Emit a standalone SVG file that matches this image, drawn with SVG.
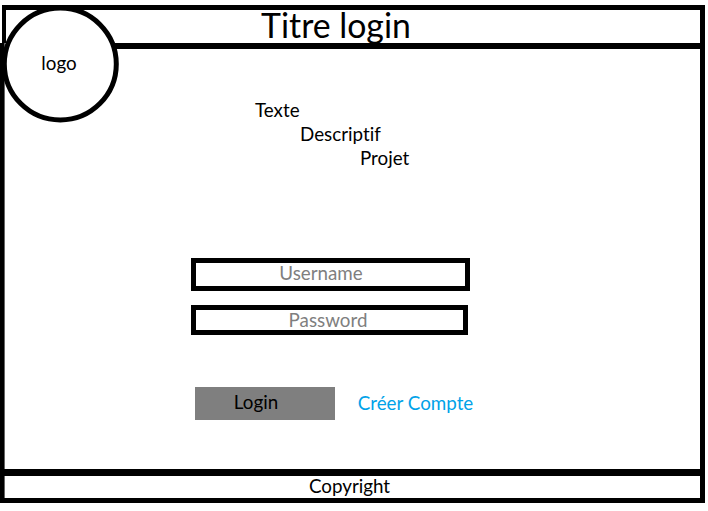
<svg xmlns="http://www.w3.org/2000/svg" width="708" height="511" viewBox="0 0 708 511">
<style>
text{font-family:"Lato","Open Sans",sans-serif;fill:#000;font-variant-ligatures:none}
.b{fill:none;stroke:#000}
.t{font-size:18.8px}
.g{font-size:18.8px;fill:#7f7f7f}
</style>
<rect width="708" height="511" fill="#fff"/>
<g id="frame">
<line class="b" x1="2" y1="7.500" x2="705" y2="7.500" stroke-width="5"/>
<line class="b" x1="702.500" y1="5" x2="702.500" y2="503" stroke-width="5"/>
<line class="b" x1="0" y1="500.500" x2="705" y2="500.500" stroke-width="5"/>
<line class="b" x1="4" y1="5" x2="4" y2="43" stroke-width="4"/>
<line class="b" x1="2.300" y1="43" x2="2.300" y2="503" stroke-width="4.600"/>
<line class="b" x1="115" y1="46" x2="703" y2="46" stroke-width="6"/>
<line class="b" x1="0" y1="472.500" x2="703" y2="472.500" stroke-width="7"/>
</g>
<g id="title"><text x="336" y="37.500" text-anchor="middle" font-size="33.800">Titre login</text></g>
<g id="logo"><circle cx="60.300" cy="64" r="56" fill="#fff" stroke="#000" stroke-width="5"/><text class="t" x="59" y="70" text-anchor="middle">logo</text></g>
<g id="description">
<text class="t" x="255" y="116.500">Texte</text>
<text class="t" x="300" y="140.500">Descriptif</text>
<text class="t" x="360" y="164.500">Projet</text>
</g>
<g id="username"><rect class="b" x="193.500" y="260.500" width="274" height="28" stroke-width="5"/><text class="g" x="321" y="279.500" text-anchor="middle">Username</text></g>
<g id="password"><rect class="b" x="193.500" y="307.500" width="272" height="25" stroke-width="5"/><text class="g" x="328" y="326.500" text-anchor="middle">Password</text></g>
<g id="login"><rect x="195" y="387" width="140" height="33" fill="#7f7f7f"/><text class="t" x="256" y="408.500" text-anchor="middle">Login</text></g>
<g id="create"><text class="t" x="415.500" y="409.500" text-anchor="middle" style="fill:#00a2e8">Créer Compte</text></g>
<g id="copyright"><text class="t" x="349.500" y="492.500" text-anchor="middle">Copyright</text></g>
<g id="connectors"/>
</svg>
